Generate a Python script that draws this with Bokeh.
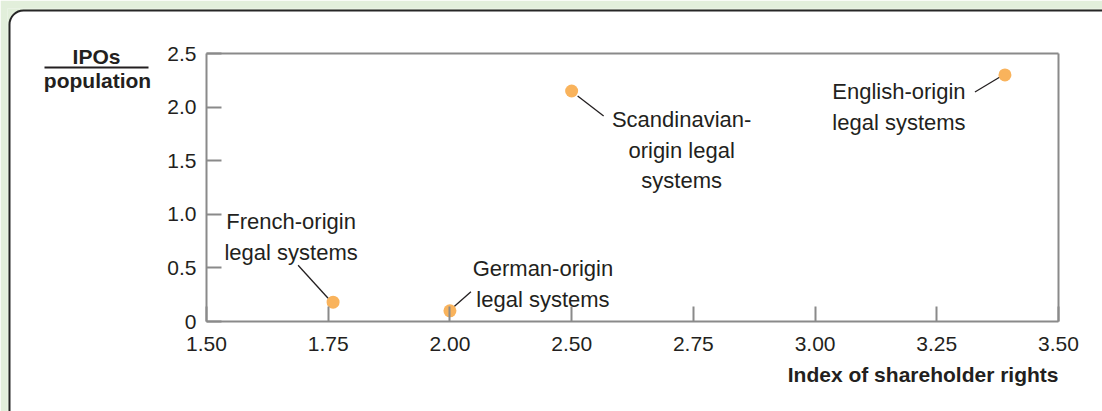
from bokeh.plotting import figure
from bokeh.models import Range1d, FixedTicker, Label, BoxAnnotation, ColumnDataSource, LinearAxis
from bokeh.embed import file_html
from bokeh.resources import INLINE
from bokeh.core.properties import value
import numpy as np

# ---- data ----
x_tick_values = [1.50, 1.75, 2.00, 2.50, 2.75, 3.00, 3.25, 3.50]
x_tick_labels = ["1.50", "1.75", "2.00", "2.50", "2.75", "3.00", "3.25", "3.50"]
y_tick_values = [0, 0.5, 1.0, 1.5, 2.0, 2.5]
y_tick_labels = ["0", "0.5", "1.0", "1.5", "2.0", "2.5"]
systems = ["French-origin\nlegal systems",
           "German-origin\nlegal systems",
           "Scandinavian-\norigin legal\nsystems",
           "English-origin\nlegal systems"]
shareholder_rights = [1.76, 2.00, 2.50, 3.39]
ipos_per_population = [0.18, 0.10, 2.15, 2.30]
x_title = "Index of shareholder rights"
y_title_num = "IPOs"
y_title_den = "population"

# ---- layout (pixel offsets of labels / leader lines relative to points) ----
label_dx = [-42, 93, 110, -106]
label_dy = [-65, -27, 59, 32]
lead_x0 = [-5, 4, 6, -5]
lead_y0 = [-4, -4, 5, 2]
lead_x1 = [-35, 21, 32, -30]
lead_y1 = [-37, -19, 25, 17]

W, H = 1102, 411
FL, FT = 7, 8                      # frame (white panel area) origin
PL, PR, PT, PB = 206, 1058, 53, 321  # plot box in canvas pixels
TXT = "#231f20"
GRID = "#8a8a8a"
GREEN = "#e2efdb"
FONT = "Liberation Sans"

# axis skips 2.25: equally spaced tick positions
pos = np.interp(shareholder_rights, x_tick_values, np.arange(len(x_tick_values)))
nx = len(x_tick_values) - 1
ymax = y_tick_values[-1]
px_per_x = (PR - PL) / nx
px_per_y = (PB - PT) / ymax

x_range = Range1d(-(PL - FL) / px_per_x, nx + (W - PR) / px_per_x)
y_range = Range1d(-(H - PB) / px_per_y, ymax + (PT - FT) / px_per_y)

p = figure(width=W, height=H, output_backend="svg", toolbar_location=None,
           x_range=x_range, y_range=y_range, x_axis_location=None, y_axis_location=None,
           min_border_left=FL, min_border_right=0, min_border_top=FT, min_border_bottom=0)
p.border_fill_color = GREEN
p.background_fill_color = GREEN
p.grid.visible = False
p.outline_line_color = None

panel = BoxAnnotation(left=9, right=W + 60, top=10, bottom=H + 60,
                      left_units="canvas", right_units="canvas", top_units="canvas", bottom_units="canvas",
                      fill_color="white", fill_alpha=1, line_color="#262626", line_alpha=1, line_width=2,
                      border_radius=14, level="underlay")
p.add_layout(panel)


def style_axis(ax, ticks, labels):
    ax.axis_line_color = GRID
    ax.axis_line_width = 2
    ax.major_tick_line_color = GRID
    ax.major_tick_line_width = 2
    ax.major_tick_in = 15
    ax.major_tick_out = 0
    ax.minor_tick_line_color = None
    ax.major_label_text_font = FONT
    ax.major_label_text_font_size = "21px"
    ax.major_label_text_color = TXT
    ax.ticker = FixedTicker(ticks=ticks)
    ax.major_label_overrides = {t: s for t, s in zip(ticks, labels)}


xaxis = LinearAxis(fixed_location=0, bounds=(0, nx))
style_axis(xaxis, list(range(len(x_tick_values))), x_tick_labels)
xaxis.major_label_standoff = 15
p.add_layout(xaxis, "below")

yaxis = LinearAxis(fixed_location=0, bounds=(0, ymax))
style_axis(yaxis, y_tick_values, y_tick_labels)
yaxis.major_label_standoff = 10
p.add_layout(yaxis, "left")

# top and right edges of the plot box
for loc, fixed, bnds in (("above", ymax, (0, nx)), ("right", nx, (0, ymax))):
    ax = LinearAxis(fixed_location=fixed, bounds=bnds, ticker=FixedTicker(ticks=[]),
                    axis_line_color=GRID, axis_line_width=2,
                    major_tick_line_color=None, minor_tick_line_color=None,
                    major_label_text_font_size="0px")
    p.add_layout(ax, loc)

src = ColumnDataSource(dict(
    x=pos, y=ipos_per_population, txt=systems,
    dx=label_dx, dy=label_dy,
    x0=pos + np.array(lead_x0) / px_per_x, y0=np.array(ipos_per_population) - np.array(lead_y0) / px_per_y,
    x1=pos + np.array(lead_x1) / px_per_x, y1=np.array(ipos_per_population) - np.array(lead_y1) / px_per_y,
))

p.segment(x0="x0", y0="y0", x1="x1", y1="y1", source=src, line_color="#231f20", line_width=1.3)
p.scatter(x="x", y="y", source=src, size=13, fill_color="#f9b35c", line_color=None)
p.text(x="x", y="y", text="txt", source=src, x_offset="dx", y_offset="dy",
       text_align="center", text_baseline="middle", text_font=value(FONT),
       text_font_size="22px", text_color=TXT, text_line_height=1.22)

# y-axis title as a fraction
p.add_layout(Label(x=96, y=56, x_units="canvas", y_units="canvas", text=y_title_num,
                   text_font=FONT, text_font_size="21px", text_font_style="bold",
                   text_color=TXT, text_align="center", text_baseline="middle"))
p.add_layout(Label(x=97, y=80, x_units="canvas", y_units="canvas", text=y_title_den,
                   text_font=FONT, text_font_size="21px", text_font_style="bold",
                   text_color=TXT, text_align="center", text_baseline="middle"))
p.add_layout(BoxAnnotation(left=44, right=148, top=66, bottom=68,
                           left_units="canvas", right_units="canvas", top_units="canvas", bottom_units="canvas",
                           fill_color=TXT, fill_alpha=1, line_color=None))
# x-axis title
p.add_layout(Label(x=PR, y=374, x_units="canvas", y_units="canvas", text=x_title,
                   text_font=FONT, text_font_size="21px", text_font_style="bold",
                   text_color=TXT, text_align="right", text_baseline="middle"))

open("out.html", "w").write(file_html(p, INLINE))
